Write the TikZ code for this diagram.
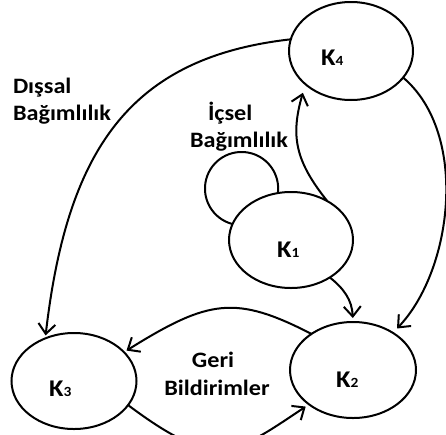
\documentclass[tikz,border=0pt]{standalone}
\usepackage{fontspec}
\setmainfont{Carlito}[FakeStretch=1.1]
\usetikzlibrary{arrows.meta,shapes.geometric}
\newcommand\klab[3]{\smash{\makebox[0pt][l]{\hspace*{#1}\raisebox{#2}{\fontsize{24}{24}\selectfont K\kern0.3pt\raisebox{-0.5pt}{\fontsize{14}{14}\selectfont #3}}}}}
\begin{document}
\begin{tikzpicture}[x=1pt,y=-1pt,line width=2pt,font=\bfseries,
  state/.style={draw,ellipse,inner sep=0pt,outer sep=0pt},
  arr/.style={-{Straight Barb[length=10pt,width=17pt]}},
  txt/.style={font=\fontsize{22}{26}\selectfont\bfseries,inner sep=0pt}]
\fill[white] (0,0) rectangle (446,434);
\useasboundingbox (0,0) rectangle (446,434);
% states
\node[state,minimum width=124pt,minimum height=98pt] (K4) at (351,51) {\klab{-30pt}{-14pt}{4}};
\node[state,minimum width=124pt,minimum height=96pt] (K1) at (291,240) {\klab{-14pt}{-17pt}{1}};
\node[state,minimum width=126pt,minimum height=96pt] (K2) at (353,370) {\klab{-17pt}{-17pt}{2}};
\node[state,minimum width=125pt,minimum height=96pt] (K3) at (74,381) {\klab{-25pt}{-15pt}{3}};
% texts
\node[txt,anchor=base west] (d1) at (12,93) {Dışsal};
\node[txt,anchor=base west] (d2) at (12,120) {Bağımlılık};
\node[txt,anchor=base west] (i1) at (207,120) {İçsel};
\node[txt,anchor=base west] (i2) at (189,147) {Bağımlılık};
\node[txt,anchor=base] (g1) at (213,367) {Geri};
\node[txt,anchor=base] (g2) at (217,395) {Bildirimler};
% self loop on K1
\draw (232.4,224.0) arc[start angle=104.5,end angle=366.9,radius=36.6];
% connectors
\draw[arr,shorten >=9pt] (K1.47) .. controls +(-32,-40) and +(-15,52) .. (K4.216);
\draw[arr,shorten >=6pt] (K4.-27) .. controls +(66,56) and +(60,-63) .. (K2.43);
\draw[arr,shorten >=3pt] (K4.169) .. controls +(-160,18) and +(22,-190) .. (K3.124);
\draw[arr,shorten >=4pt] (K1.-44) .. controls +(14,11) and +(-1,-22) .. (K2.90);
\draw[arr,shorten >=3pt] (K2.139) .. controls +(-76,-39) and +(85,-53) .. (K3.30);
\draw[arr,shorten >=4pt] (K3.-24) .. controls +(88,66) and +(-75,50) .. (K2.218);
\end{tikzpicture}
\end{document}
